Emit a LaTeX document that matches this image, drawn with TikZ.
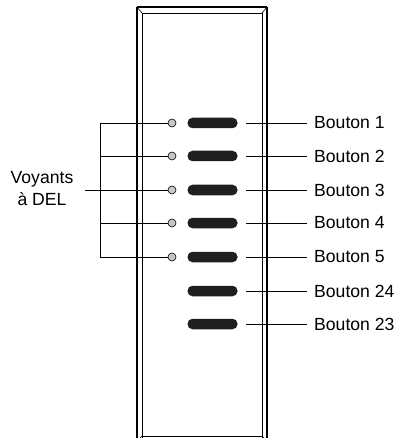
\documentclass[tikz,border=0pt]{standalone}
\usepackage{fontspec}
\setmainfont{Liberation Sans}
\begin{document}
\begin{tikzpicture}[x=1pt,y=-1pt,
  led/.style={circle,draw=black,fill=black!22,line width=0.6pt,minimum size=8pt,inner sep=0pt},
  btn/.style={rectangle,rounded corners=5pt,fill=black!88,draw=none,minimum width=50pt,minimum height=10.5pt,inner sep=0pt},
  lbl/.style={anchor=west,inner sep=0pt,font=\fontsize{17.6}{20}\selectfont},
  leader/.style={draw=black,line width=0.7pt}]
\useasboundingbox (0,0) rectangle (399,438);
% frame
\draw[line width=1.3pt] (137,7) -- (267,7);
\draw[line width=1.3pt] (137,7) -- (137,445);
\draw[line width=1.3pt] (267,7) -- (267,445);
\draw[line width=0.8pt] (142,445) -- (142,13) -- (262,13) -- (262,445);
\draw[line width=0.8pt] (142,436) -- (262,436);
\draw[line width=0.6pt] (137,7) -- (142,13) (267,7) -- (262,13);
\draw[line width=0.6pt] (137,441) -- (142,436) (267,441) -- (262,436);
% LEDs
\foreach \i/\y in {1/123,2/156,3/190,4/223,5/257}{
  \node[led] (led\i) at (172,\y) {};
}
% buttons
\foreach \n/\y in {1/123,2/156,3/190,4/223,5/257,24/291,23/324}{
  \node[btn] (b\n) at (212.5,\y) {};
  \node[lbl] (t\n) at (314,\y) {Bouton \n};
  \coordinate (s\n) at (246,\y);
  \draw[leader] (s\n) -- ([xshift=-7pt]t\n.west);
}
% LED bracket
\foreach \i/\y in {1/123,2/156,3/190,4/223,5/257}{
  \coordinate (k\i) at (100,\y);
  \draw[leader] (k\i) -- (led\i.west);
}
\draw[leader] (k1) -- (k5);
\node[inner sep=0pt,align=center,font=\fontsize{17.6}{22}\selectfont] (voy) at (42,189) {Voyants\\à DEL};
\coordinate (vstart) at (85,190);
\draw[leader] (vstart) -- (k3);
\end{tikzpicture}
\end{document}
